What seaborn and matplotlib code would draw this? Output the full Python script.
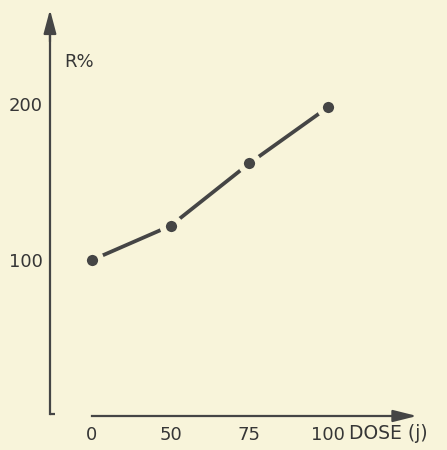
import matplotlib
matplotlib.use("Agg")
import matplotlib.pyplot as plt
import seaborn as sns
import pandas as pd

# Dose-response values
dose_labels = ["0", "50", "75", "100"]
response_pct = [100, 122, 162, 198]
y_ticks = [100, 200]

paper = "#f8f4da"
ink = "#454545"
text_ink = "#363636"
fs = 13

sns.set_theme(style="white")
plt.rcParams["font.family"] = ["DejaVu Sans"]

df = pd.DataFrame({"pos": range(len(dose_labels)), "R": response_pct})

fig = plt.figure(figsize=(4.47, 4.5), dpi=100, facecolor=paper)
ax = fig.add_axes([0, 0, 1, 1], facecolor=paper)

# Line with dots; the paper-coloured marker edge leaves a small gap around each dot
sns.lineplot(data=df, x="pos", y="R", ax=ax, color=ink, linewidth=2.7,
             marker="o", markersize=12.5, markerfacecolor=ink,
             markeredgecolor=paper, markeredgewidth=4.4, legend=False)

ax.set_xlim(-1.169, 4.511)
ax.set_ylim(-21.8, 266.7)

# Axes drawn as detached spines with arrowheads
ax.spines["top"].set_visible(False)
ax.spines["right"].set_visible(False)
for side in ("left", "bottom"):
    ax.spines[side].set_color(ink)
    ax.spines[side].set_linewidth(1.6)
ax.spines["left"].set_position(("data", -0.534))
ax.spines["left"].set_bounds(1.0, 250)
ax.spines["bottom"].set_position(("data", 0))
ax.spines["bottom"].set_bounds(0, 4.0)

ax.annotate("", xy=(-0.534, 260.5), xytext=(-0.534, 240),
            arrowprops=dict(arrowstyle="-|>,head_length=1.2,head_width=0.32",
                            color=ink, lw=1.6, shrinkA=0, shrinkB=0))
ax.annotate("", xy=(4.13, 0), xytext=(3.9, 0),
            arrowprops=dict(arrowstyle="-|>,head_length=1.2,head_width=0.3",
                            color=ink, lw=1.6, shrinkA=0, shrinkB=0))
# small foot at the base of the vertical axis
ax.plot([-0.534, -0.47], [1.0, 1.0], color=ink, lw=1.6, solid_capstyle="butt")

ax.set_xticks(range(len(dose_labels)))
ax.set_xticklabels(dose_labels)
ax.set_yticks(y_ticks)
ax.set_yticklabels([str(v) for v in y_ticks])
ax.tick_params(axis="x", direction="in", length=8, width=1.6, color=ink,
               pad=7, labelsize=fs, labelcolor=text_ink)
ax.tick_params(axis="y", direction="in", length=11, width=1.6, color=ink,
               pad=5, labelsize=fs, labelcolor=text_ink)
ax.set_xlabel("")
ax.set_ylabel("")

ax.text(-0.356, 227, "R%", ha="left", va="center", fontsize=fs, color=text_ink)
# axis title sits on the same line as the dose tick labels
ax.text(3.27, -11.5, "DOSE (j)", ha="left", va="center", fontsize=fs + 0.5,
        color=text_ink)

fig.savefig("out.png", dpi=100, facecolor=paper)
